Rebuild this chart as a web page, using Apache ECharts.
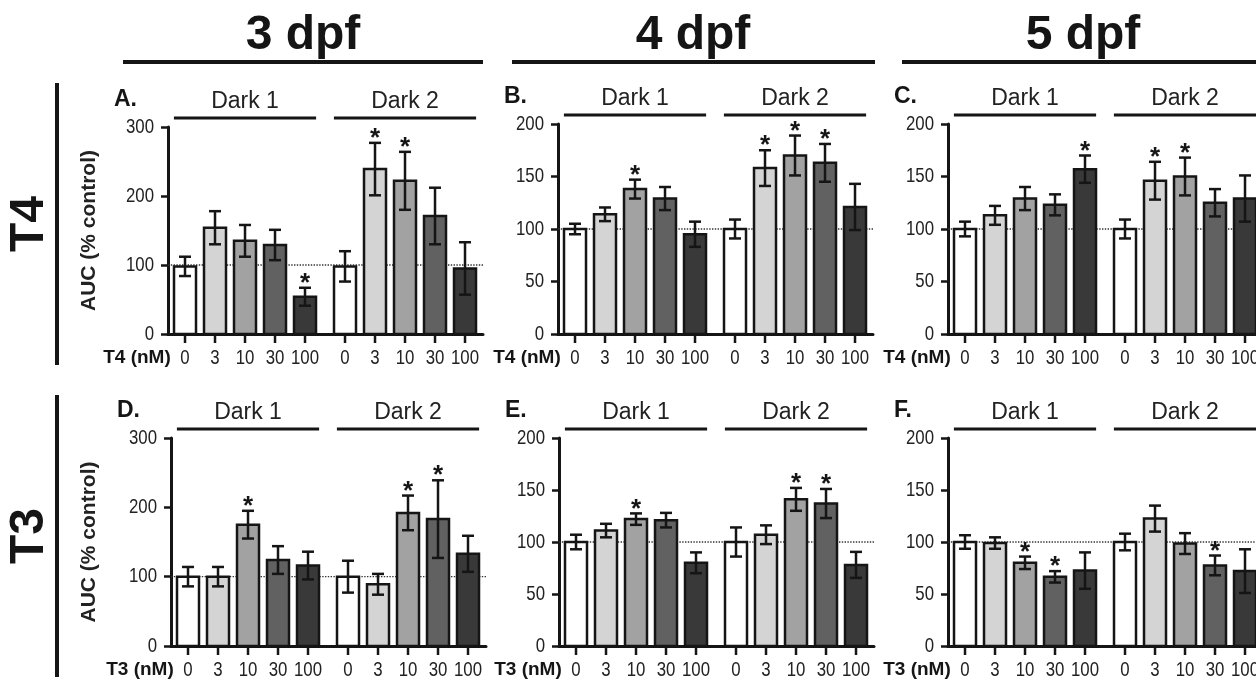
<!DOCTYPE html>
<html>
<head>
<meta charset="utf-8">
<script src="https://cdn.jsdelivr.net/npm/echarts@6/dist/echarts.min.js"></script>
<style>
  html, body { margin: 0; background: #fff; }
  #chart { width: 1256px; height: 683px; }
</style>
</head>
<body>
<div id="chart"></div>
<script>
// categories / labels
const doses = ['0', '3', '10', '30', '100'];
const groupNames = ['Dark 1', 'Dark 2'];
const panelLetters = ['A.', 'B.', 'C.', 'D.', 'E.', 'F.'];
const hormones = ['T4', 'T4', 'T4', 'T3', 'T3', 'T3'];
const ageTitles = ['3 dpf', '4 dpf', '5 dpf'];
const yMax = [300, 200, 200, 300, 200, 200];
const yStep = [100, 50, 50, 100, 50, 50];

// AUC (% control), 5 doses in Dark 1 then 5 doses in Dark 2
const meanA = [98, 154, 135, 129, 54, 98, 239, 222, 171, 95];
const errA = [14, 24, 23, 22, 13, 22, 38, 42, 41, 38];
const starA = [0, 0, 0, 0, 1, 0, 1, 1, 0, 0];

const meanB = [100, 114, 138, 129, 95, 100, 158, 170, 163, 121];
const errB = [5, 6.5, 9, 11, 12, 9, 17, 19, 18, 22];
const starB = [0, 0, 1, 0, 0, 0, 1, 1, 1, 0];

const meanC = [100, 113, 129, 123, 157, 100, 146, 150, 125, 129];
const errC = [7, 9, 11, 10, 13, 9, 18, 18, 13, 22];
const starC = [0, 0, 0, 0, 1, 0, 1, 1, 0, 0];

const meanD = [100, 100, 175, 124, 116, 100, 89, 192, 183, 133];
const errD = [14, 14, 20, 20, 20, 23, 15, 25, 56, 26];
const starD = [0, 0, 1, 0, 0, 0, 0, 1, 1, 0];

const meanE = [100, 111, 122, 121, 80, 100, 107, 141, 137, 78];
const errE = [7, 6.5, 5.5, 7, 10, 14, 9, 11, 14, 12.5];
const starE = [0, 0, 1, 0, 0, 0, 0, 1, 1, 0];

const meanF = [100, 99, 80, 66.5, 72.5, 100, 122.5, 98.5, 77.5, 72];
const errF = [6.5, 5.5, 6, 5.5, 17.5, 8, 12.5, 10, 9.5, 21];
const starF = [0, 0, 1, 1, 0, 0, 0, 0, 1, 0];

const means = [meanA, meanB, meanC, meanD, meanE, meanF];
const errs = [errA, errB, errC, errD, errE, errF];
const stars = [starA, starB, starC, starD, starE, starF];

const barColors = ['#ffffff', '#d4d4d4', '#a2a2a2', '#616161', '#393939'];
const INK = '#151515';
const SANS = '"Liberation Sans", Arial, sans-serif';
const NARROW_SCALE = 0.8; // digits in the figure are set in a condensed face

// x layout: small extra gap between the two dark periods
const GAP = 1 / 3;
const xPos = i => i + (i >= 5 ? GAP : 0);
const X_MIN = -0.567, X_MAX = 9.933;

// panel placement (px)
const gridLeft = [168, 558, 948, 171, 559, 948];
const gridTop = [127, 124, 124, 438, 438, 438];
const gridBottom = [334, 334, 334, 646, 646, 646];

function narrowText(x, y, text, align) {
  return { type: 'text', x: x, y: y, scaleX: NARROW_SCALE,
    style: { text: text, font: '21px ' + SANS, fill: '#222', align: align, verticalAlign: 'middle' } };
}

function renderBar(params, api) {
  const x = api.value(0), v = api.value(1), e = api.value(2);
  const star = api.value(3), k = api.value(4);
  const base = api.coord([x, 0]);
  const top = api.coord([x, v]);
  const hi = api.coord([x, v + e]);
  const lo = api.coord([x, v - e]);
  const w = 22, cap = 6;
  const ls = { stroke: INK, lineWidth: 2.5 };
  const children = [
    { type: 'rect', shape: { x: base[0] - w / 2, y: top[1], width: w, height: base[1] - top[1] },
      style: { fill: barColors[k], stroke: INK, lineWidth: 2.5 } },
    { type: 'line', shape: { x1: hi[0], y1: hi[1], x2: lo[0], y2: lo[1] }, style: ls },
    { type: 'line', shape: { x1: hi[0] - cap, y1: hi[1], x2: hi[0] + cap, y2: hi[1] }, style: ls },
    { type: 'line', shape: { x1: lo[0] - cap, y1: lo[1], x2: lo[0] + cap, y2: lo[1] }, style: ls },
    { type: 'line', shape: { x1: base[0], y1: base[1], x2: base[0], y2: base[1] + 9 }, style: ls },
    narrowText(base[0], base[1] + 24, doses[k], 'center')
  ];
  if (star) {
    children.push({ type: 'text', x: hi[0], y: hi[1] - 4,
      style: { text: '*', font: 'bold 26px ' + SANS, fill: INK, align: 'center', verticalAlign: 'middle' } });
  }
  return { type: 'group', children };
}

function groupRenderer(p) {
  return function (params, api) {
    const cs = params.coordSys;
    const g = api.value(2);
    const a = api.coord([api.value(0) - 0.37, 0]);
    const b = api.coord([api.value(1) + 0.37, 0]);
    const children = [
      { type: 'line', shape: { x1: a[0], y1: cs.y - 9, x2: b[0], y2: cs.y - 9 }, style: { stroke: INK, lineWidth: 3 } },
      { type: 'text', x: (a[0] + b[0]) / 2, y: cs.y - 25,
        style: { text: groupNames[g], font: '23px ' + SANS, fill: '#222', align: 'center', verticalAlign: 'middle' } }
    ];
    if (g === 0) {
      children.push({ type: 'text', x: cs.x - 54, y: cs.y - 27,
        style: { text: panelLetters[p], font: 'bold 23px ' + SANS, fill: INK, align: 'left', verticalAlign: 'middle' } });
      children.push({ type: 'text', x: cs.x - 31, y: cs.y + cs.height + 24,
        style: { text: hormones[p] + ' (nM)', font: 'bold 19px ' + SANS, fill: INK, align: 'center', verticalAlign: 'middle' } });
      // y tick labels, placed through the axis scale
      for (let t = 0; t <= yMax[p]; t += yStep[p]) {
        const pt = api.coord([X_MIN, t]);
        children.push(narrowText(pt[0] - 14, pt[1], String(t), 'right'));
      }
    }
    return { type: 'group', children };
  };
}

const grid = [], xAxis = [], yAxis = [], series = [];
for (let p = 0; p < 6; p++) {
  grid.push({ left: gridLeft[p], top: gridTop[p], width: (X_MAX - X_MIN) * 30,
    height: gridBottom[p] - gridTop[p], outerBoundsMode: 'none', containLabel: false });
  xAxis.push({ type: 'value', gridIndex: p, min: X_MIN, max: X_MAX,
    axisLine: { show: true, onZero: true, lineStyle: { color: INK, width: 3 } },
    axisTick: { show: false }, axisLabel: { show: false }, splitLine: { show: false } });
  yAxis.push({ type: 'value', gridIndex: p, min: 0, max: yMax[p], interval: yStep[p],
    axisLine: { show: true, onZero: false, lineStyle: { color: INK, width: 3 } },
    axisTick: { show: true, length: 7, lineStyle: { color: INK, width: 2.5 } },
    axisLabel: { show: false },
    splitLine: { show: false } });
  series.push({ type: 'line', xAxisIndex: p, yAxisIndex: p, silent: true, symbol: 'none', z: 1,
    data: [[X_MIN, 100], [X_MAX, 100]],
    lineStyle: { color: '#333', width: 1.4, type: 'dotted' } });
  series.push({ type: 'custom', xAxisIndex: p, yAxisIndex: p, clip: false, z: 3,
    renderItem: renderBar,
    data: means[p].map((v, i) => [xPos(i), v, errs[p][i], stars[p][i], i % 5]) });
  series.push({ type: 'custom', xAxisIndex: p, yAxisIndex: p, clip: false, z: 3,
    renderItem: groupRenderer(p),
    data: [[xPos(0), xPos(4), 0], [xPos(5), xPos(9), 1]] });
}

// column titles, row labels and brackets
const titleX = [303, 693, 1083];
const titleLine = [[123, 483], [512, 875], [902, 1264]];
const graphic = [];
ageTitles.forEach((t, i) => {
  graphic.push({ type: 'text', x: titleX[i], y: 36,
    style: { text: t, font: 'bold 48px ' + SANS, fill: INK, align: 'center', verticalAlign: 'middle' } });
  graphic.push({ type: 'line', shape: { x1: titleLine[i][0], y1: 62, x2: titleLine[i][1], y2: 62 },
    style: { stroke: INK, lineWidth: 4 } });
});
const rowSpan = [[83, 365], [395, 677]];
['T4', 'T3'].forEach((t, r) => {
  const mid = (rowSpan[r][0] + rowSpan[r][1]) / 2;
  graphic.push({ type: 'line', shape: { x1: 57, y1: rowSpan[r][0], x2: 57, y2: rowSpan[r][1] },
    style: { stroke: INK, lineWidth: 4 } });
  graphic.push({ type: 'text', x: 30, y: mid, rotation: Math.PI / 2,
    style: { text: t, font: 'bold 48px ' + SANS, fill: INK, align: 'center', verticalAlign: 'middle' } });
  const axMid = (gridTop[r * 3] + gridBottom[r * 3]) / 2;
  graphic.push({ type: 'text', x: 89, y: axMid, rotation: Math.PI / 2,
    style: { text: 'AUC (% control)', font: 'bold 21px ' + SANS, fill: '#222', align: 'center', verticalAlign: 'middle' } });
});

const chart = echarts.init(document.getElementById('chart'), null, { renderer: 'canvas' });
chart.setOption({
  animation: false,
  backgroundColor: '#fff',
  grid, xAxis, yAxis, series, graphic
});
</script>
</body>
</html>
